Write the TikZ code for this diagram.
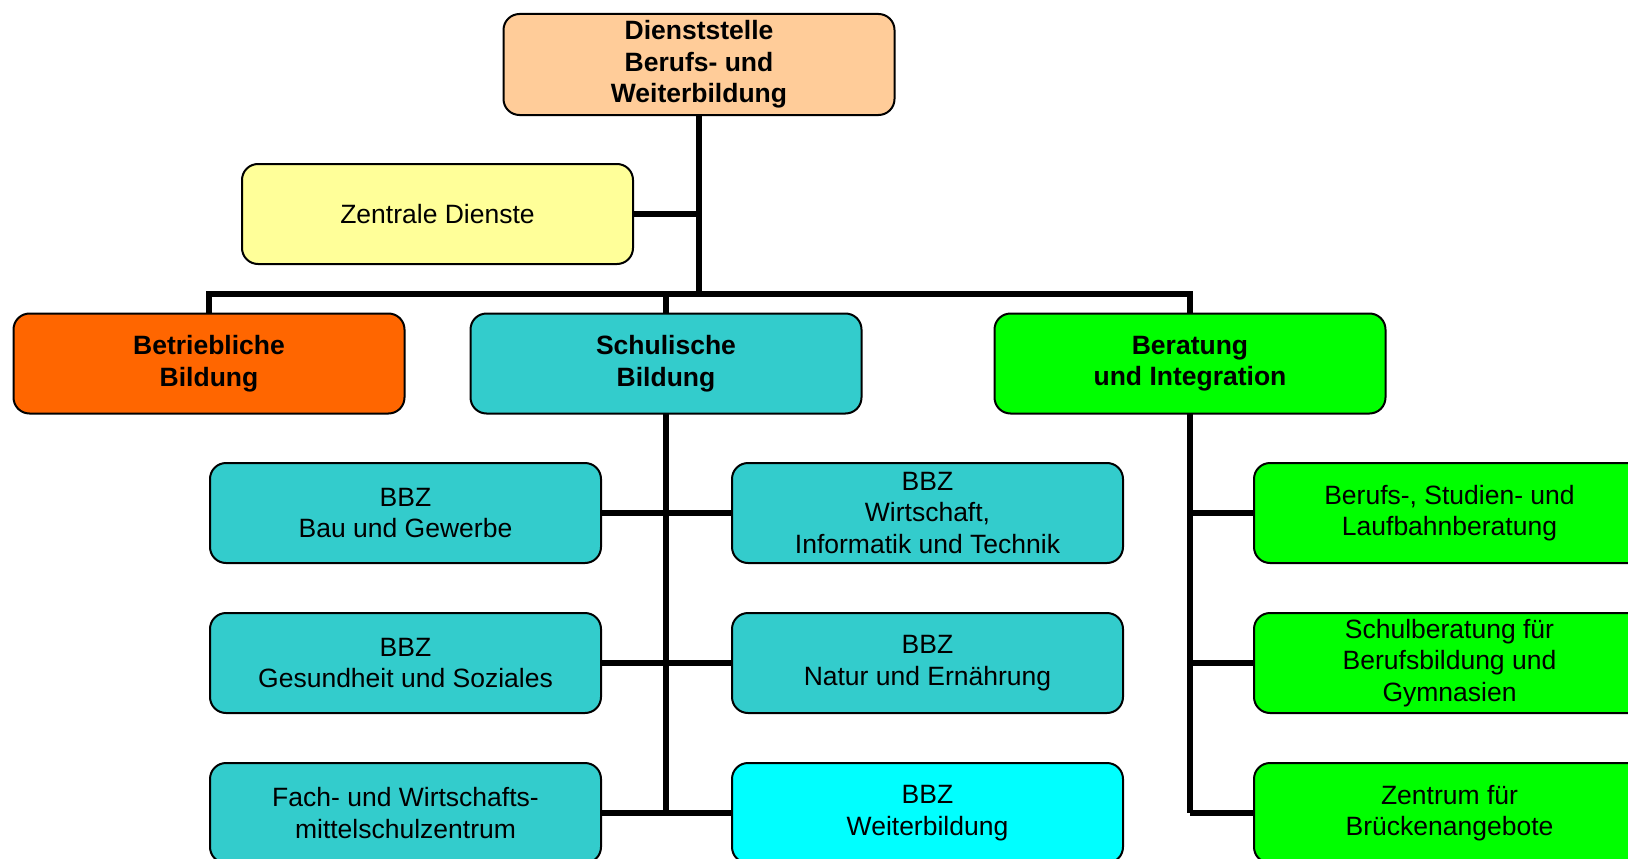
\documentclass[tikz,border=0pt]{standalone}
\usepackage{fontspec}
\setmainfont{Liberation Sans}
\definecolor{cpeach}{HTML}{FFCC99}
\definecolor{cyel}{HTML}{FFFF99}
\definecolor{corange}{HTML}{FF6600}
\definecolor{cteal}{HTML}{33CCCC}
\definecolor{cgreen}{HTML}{00FF00}
\definecolor{ccyan}{HTML}{00FFFF}
\begin{document}
\begin{tikzpicture}[x=1pt,y=-1pt,
  orgbox/.style={draw=black, line width=2pt, rounded corners=16pt,
    minimum width=391pt, minimum height=100pt, inner sep=0pt, outer sep=0pt,
    align=center, font=\fontsize{26.5}{31.5}\selectfont},
  boldbox/.style={orgbox, font=\fontsize{26.5}{31.5}\selectfont\bfseries},
  conn/.style={line width=5.5pt, black}]
\useasboundingbox (0,0) rectangle (1628,859);
\clip (0,0) rectangle (1628,859);
% top level
\node[boldbox, fill=cpeach, minimum height=101pt] (top) at (699,64.5) {Dienststelle\\Berufs- und\\Weiterbildung};
\node[orgbox, fill=cyel] (zd) at (437.5,214) {Zentrale Dienste};
% level 2
\node[boldbox, fill=corange] (betr) at (209,363.5) {Betriebliche\\Bildung};
\node[boldbox, fill=cteal] (schul) at (666,363.5) {Schulische\\Bildung};
\node[boldbox, fill=cgreen] (ber) at (1190,363.5) {Beratung\\und Integration};
% schulische children
\node[orgbox, fill=cteal] (bau) at (405.5,513) {BBZ\\Bau und Gewerbe};
\node[orgbox, fill=cteal] (wit) at (927.5,513) {BBZ\\Wirtschaft,\\Informatik und Technik};
\node[orgbox, fill=cteal] (ges) at (405.5,663) {BBZ\\Gesundheit und Soziales};
\node[orgbox, fill=cteal] (nat) at (927.5,663) {BBZ\\Natur und Ernährung};
\node[orgbox, fill=cteal] (fwz) at (405.5,813) {Fach- und Wirtschafts-\\mittelschulzentrum};
\node[orgbox, fill=ccyan] (wb) at (927.5,813) {BBZ\\Weiterbildung};
% beratung children
\node[orgbox, fill=cgreen] (bsl) at (1449.5,513) {Berufs-, Studien- und\\Laufbahnberatung};
\node[orgbox, fill=cgreen] (sbg) at (1449.5,663) {Schulberatung für\\Berufsbildung und\\Gymnasien};
\node[orgbox, fill=cgreen] (zfb) at (1449.5,813) {Zentrum für\\Brückenangebote};
% connectors
\coordinate (hb) at (699,294);
\draw[conn] (top.south) -- (hb);
\draw[conn] (zd.east) -- (zd.east -| top.south);
\draw[conn] (betr.north) |- (hb) -| (ber.north);
\draw[conn] (schul.north) -- (schul.north |- hb);
\draw[conn] (schul.south) -- (schul.south |- fwz.east);
\draw[conn] (bau.east) -- (wit.west);
\draw[conn] (ges.east) -- (nat.west);
\draw[conn] (fwz.east) -- (wb.west);
\draw[conn] (ber.south) -- (ber.south |- zfb.west);
\draw[conn] (ber.south |- bsl.west) -- (bsl.west);
\draw[conn] (ber.south |- sbg.west) -- (sbg.west);
\draw[conn] (ber.south |- zfb.west) -- (zfb.west);
\end{tikzpicture}
\end{document}
